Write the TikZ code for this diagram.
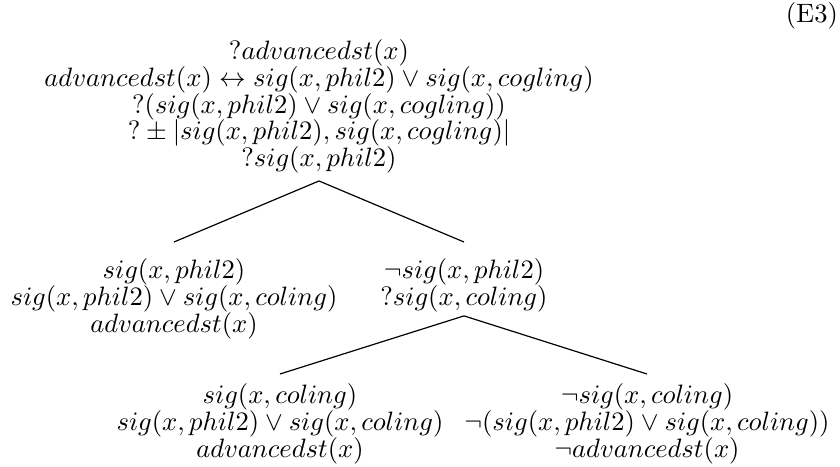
\documentclass[tikz,border=0pt]{standalone}
\usetikzlibrary{calc}
\begin{document}
\begin{tikzpicture}[x=0.376pt,y=-0.376pt,
  every node/.style={inner sep=0pt, outer sep=0pt},
  tnode/.style={anchor=north, align=center,
    font={\fontsize{10}{10}\selectfont\lineskiplimit=-10pt\lineskip=0pt}},
  branch/.style={line width=0.45pt}]
\useasboundingbox (0,0) rectangle (840,467);

% equation tag
\node[anchor=base east, font=\fontsize{10}{12}\selectfont] (tag) at (838,22) {(E3)};

% root of the tree
\node[tnode] (root) at (319,40) {%
  $?advancedst(x)$\\
  $advancedst(x)\leftrightarrow sig(x,phil2)\vee sig(x,cogling)$\\
  $?(sig(x,phil2)\vee sig(x,cogling))$\\
  $?\pm|sig(x,phil2),sig(x,cogling)|$\\
  $?sig(x,phil2)$};

% first split
\node[tnode] (yes1) at (174,259) {%
  $sig(x,phil2)$\\
  $sig(x,phil2)\vee sig(x,coling)$\\
  $advancedst(x)$};
\node[tnode] (no1) at (464,259) {%
  $\neg sig(x,phil2)$\\
  $?sig(x,coling)$};

% second split
\node[tnode] (yes2) at (280,384) {%
  $sig(x,coling)$\\
  $sig(x,phil2)\vee sig(x,coling)$\\
  $advancedst(x)$};
\node[tnode] (no2) at (647,384) {%
  $\neg sig(x,coling)$\\
  $\neg(sig(x,phil2)\vee sig(x,coling))$\\
  $\neg advancedst(x)$};

% branches
\draw[branch] ($(root.south)+(0,8)$) -- ($(yes1.north)+(0,-17)$);
\draw[branch] ($(root.south)+(0,8)$) -- ($(no1.north)+(0,-17)$);
\draw[branch] ($(no1.south)+(0,3.7)$) -- ($(yes2.north)+(0,-10)$);
\draw[branch] ($(no1.south)+(0,3.7)$) -- ($(no2.north)+(0,-10)$);
\end{tikzpicture}
\end{document}
